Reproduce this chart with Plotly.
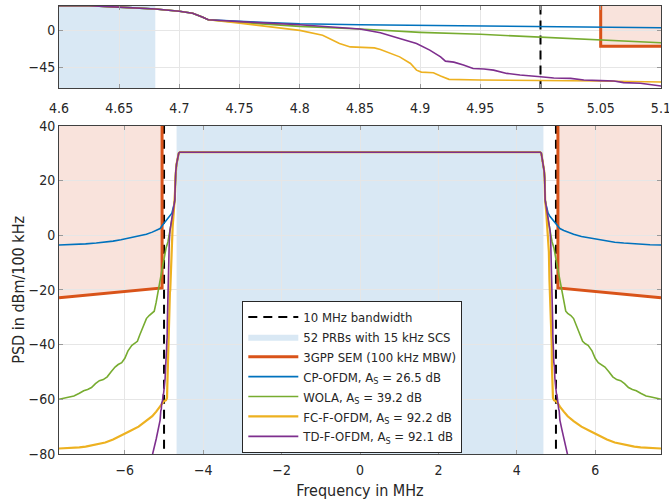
import plotly.graph_objects as go

# ---------------- data (right half of the symmetric spectrum, MHz / dBm per 100 kHz) ----------------
N_PRB = 52
SCS_MHZ = 0.015
CHANNEL_EDGE = 5.0          # 10 MHz bandwidth -> +-5 MHz
F_MAX = 7.68

cp_f = [0, 2, 4, 4.55, 4.6, 4.625, 4.65, 4.68, 4.7, 4.711, 4.719, 4.724, 4.75, 4.8, 4.85, 4.9,
        4.95, 5.0, 5.05, 5.1, 5.2, 5.3, 5.45, 5.65, 5.88, 6.1, 6.3, 6.5, 6.73, 7.0, 7.16, 7.4, 7.68]
cp_v = [30.3, 30.2, 30.3, 30.3, 30.3, 30.0, 28.2, 26.0, 23.3, 20.9, 16.1, 12.9, 10.9, 8.0, 6.8, 6.0,
        5.2, 4.3, 3.4, 2.4, 1.7, 1.1, 0.3, -0.5, -1.1, -1.7, -2.2, -2.6, -2.9, -3.2, -3.4, -3.5, -3.6]

wola_f = [0, 2, 4, 4.55, 4.6, 4.625, 4.65, 4.68, 4.7, 4.711, 4.719, 4.724, 4.75, 4.8, 4.85, 4.9,
          4.95, 5.0, 5.05, 5.1, 5.15, 5.2, 5.25, 5.3, 5.38, 5.45, 5.54, 5.62, 5.68, 5.75, 5.82, 5.92,
          6.0, 6.08, 6.17, 6.25, 6.35, 6.45, 6.55, 6.65, 6.75, 6.85, 6.95, 7.05, 7.16, 7.3, 7.4, 7.5,
          7.6, 7.68]
wola_v = [30.3, 30.2, 30.3, 30.3, 30.3, 30.0, 28.2, 26.0, 23.3, 20.9, 16.1, 12.9, 9.7, 4.8, 1.6, -2.4,
          -4.8, -8.8, -12.5, -16.1, -20.0, -24.5, -27.8, -28.6, -29.4, -30.5, -33.8, -36.5, -38.8, -39.7,
          -40.3, -42.3, -45.0, -46.6, -47.3, -48.2, -49.9, -51.8, -52.8, -53.2, -54.3, -55.7, -56.4,
          -56.9, -57.8, -58.8, -59.1, -59.3, -59.7, -60.0]

fc_f = [0, 2, 4, 4.55, 4.6, 4.625, 4.65, 4.68, 4.7, 4.711, 4.719, 4.724, 4.75, 4.78, 4.8, 4.819,
        4.833, 4.842, 4.85, 4.862, 4.867, 4.875, 4.883, 4.892, 4.897, 4.901, 4.911, 4.917, 4.924,
        4.95, 5.0, 5.05, 5.1, 5.2, 5.3, 5.45, 5.65, 5.88, 6.1, 6.3, 6.5, 6.73, 7.0, 7.16, 7.4, 7.68]
fc_v = [30.3, 30.2, 30.3, 30.3, 30.3, 30.0, 28.2, 26.0, 23.3, 20.9, 16.1, 12.9, 8.8, 3.2, 0.0, -6.0,
        -16.0, -20.1, -20.9, -21.3, -23.3, -27.3, -32.2, -40.2, -48.3, -50.7, -51.5, -55.5, -59.5,
        -60.3, -60.7, -61.5, -62.7, -64.5, -66.2, -68.0, -70.0, -71.7, -73.4, -74.7, -75.8, -76.6,
        -77.3, -77.6, -77.9, -78.0]

td_f = [0, 2, 4, 4.55, 4.6, 4.625, 4.65, 4.68, 4.7, 4.711, 4.719, 4.724, 4.75, 4.8, 4.85, 4.867,
        4.883, 4.897, 4.908, 4.917, 4.921, 4.928, 4.936, 4.944, 4.953, 4.961, 4.972, 4.983, 5.0,
        5.011, 5.025, 5.036, 5.05, 5.061, 5.069, 5.083, 5.1, 5.15, 5.2, 5.3, 5.4, 5.5]
td_v = [30.3, 30.2, 30.3, 30.3, 30.3, 30.0, 28.2, 26.0, 23.3, 20.9, 16.1, 12.9, 10.6, 6.8, 1.6, -2.8,
        -10.0, -16.0, -24.0, -32.2, -37.4, -38.6, -42.0, -46.3, -47.0, -48.3, -52.3, -54.3, -56.3,
        -57.9, -58.3, -60.3, -61.0, -61.5, -63.5, -64.3, -67.6, -71.0, -74.5, -80.5, -86.0, -91.0]

sem_f = [5.05, 7.68]
sem_v = [-19.3, -22.9]

names = ["CP-OFDM, A<sub>S</sub> = 26.5 dB", "WOLA, A<sub>S</sub> = 39.2 dB",
         "FC-F-OFDM, A<sub>S</sub> = 92.2 dB", "TD-F-OFDM, A<sub>S</sub> = 92.1 dB"]
colors = ["#0072bd", "#77ac30", "#edb120", "#7e2f8e"]

x_ticks_main = [-6, -4, -2, 0, 2, 4, 6]
y_ticks_main = [-80, -60, -40, -20, 0, 20, 40]
x_ticks_zoom = [4.6, 4.65, 4.7, 4.75, 4.8, 4.85, 4.9, 4.95, 5.0, 5.05, 5.1]
x_ticktext_zoom = ["4.6", "4.65", "4.7", "4.75", "4.8", "4.85", "4.9", "4.95", "5", "5.05", "5.1"]
y_ticks_zoom = [-45, 0]

Y_MAIN = [-80, 40]
Y_ZOOM = [-70, 29.6]
X_ZOOM = [4.6, 5.1]

# ---------------- helpers ----------------
def mirror(f, v):
    xs = [-a for a in reversed(f[1:])] + list(f)
    ys = list(reversed(v[1:])) + list(v)
    return xs, ys

FONT = "Liberation Sans Narrow, Arial Narrow, DejaVu Sans Condensed, sans-serif"
TXT = "#262626"
half_bw = N_PRB * 12 * SCS_MHZ / 2

fig = go.Figure()

# shaded regions as shapes below the grid
shapes = []
for xr, yr, yrng in (("x", "y", Y_MAIN), ("x2", "y2", Y_ZOOM)):
    shapes.append(dict(type="rect", xref=xr, yref=yr + " domain", x0=-half_bw, x1=half_bw, y0=0, y1=1,
                       fillcolor="#d9e8f4", line_width=0, layer="below"))
    top = yrng[1] + 20
    for s in (1, -1):
        path = "M {a},{b} L {c},{d} L {c},{t} L {a},{t} Z".format(
            a=s * sem_f[0], b=sem_v[0], c=s * sem_f[1], d=sem_v[1], t=top)
        shapes.append(dict(type="path", xref=xr, yref=yr, path=path,
                           fillcolor="#f9e3dc", line_width=0, layer="below"))

for xa, ya, yrng, main in (("x", "y", Y_MAIN, True), ("x2", "y2", Y_ZOOM, False)):
    # 10 MHz bandwidth dashed lines
    fig.add_trace(go.Scatter(
        x=[-CHANNEL_EDGE, -CHANNEL_EDGE, None, CHANNEL_EDGE, CHANNEL_EDGE],
        y=[yrng[0] - 20, yrng[1] + 20, None, yrng[0] - 20, yrng[1] + 20],
        mode="lines", line=dict(color="black", width=2, dash="9px,6px"),
        name="10 MHz bandwidth", showlegend=main, xaxis=xa, yaxis=ya, hoverinfo="skip"))
    if main:
        fig.add_trace(go.Scatter(x=[None], y=[None], mode="lines", fill="toself",
                                 fillcolor="#d9e8f4", line=dict(width=0, color="#d9e8f4"),
                                 name="52 PRBs with 15 kHz SCS", showlegend=True,
                                 xaxis=xa, yaxis=ya))
    # SEM line
    sx = [-sem_f[1], -sem_f[0], -sem_f[0], None, sem_f[0], sem_f[0], sem_f[1]]
    sy = [sem_v[1], sem_v[0], yrng[1] + 20, None, yrng[1] + 20, sem_v[0], sem_v[1]]
    fig.add_trace(go.Scatter(x=sx, y=sy, mode="lines", line=dict(color="#d95319", width=3),
                             name="3GPP SEM (100 kHz MBW)", showlegend=main,
                             xaxis=xa, yaxis=ya, hoverinfo="skip"))
    for (f, v), nm, c in zip(((cp_f, cp_v), (wola_f, wola_v), (fc_f, fc_v), (td_f, td_v)), names, colors):
        xs, ys = mirror(f, v)
        w = 1.6
        if main and c == "#edb120":
            w = 2.2
        fig.add_trace(go.Scatter(x=xs, y=ys, mode="lines", line=dict(color=c, width=w),
                                 name=nm, showlegend=main, xaxis=xa, yaxis=ya, hoverinfo="skip"))

axis_common = dict(showline=True, linecolor="#404040", linewidth=1, mirror="ticks",
                   ticks="inside", ticklen=4, tickcolor="#9a9a9a", automargin=False,
                   showgrid=True, gridcolor="#e6e6e6", gridwidth=1, zeroline=False,
                   ticklabeloverflow="allow",
                   tickfont=dict(family=FONT, size=14, color=TXT))

fig.update_layout(
    template="none",
    width=669, height=504,
    margin=dict(l=59, r=8, t=6, b=50),
    paper_bgcolor="white", plot_bgcolor="white",
    font=dict(family=FONT, size=14, color=TXT),
    shapes=shapes,
    showlegend=True,
    legend=dict(x=0.3045, y=0.3415, xanchor="left", yanchor="top",
                bgcolor="white", bordercolor="#262626", borderwidth=1,
                font=dict(family=FONT, size=13, color=TXT),
                itemwidth=50, tracegroupgap=0),
    xaxis=dict(domain=[0, 1], range=[-F_MAX, F_MAX], anchor="y", ticklabelstandoff=3,
               tickvals=x_ticks_main, title=dict(text="Frequency in MHz", font=dict(size=16), standoff=8),
               **axis_common),
    yaxis=dict(domain=[0, 0.7328], range=Y_MAIN, anchor="x",
               tickvals=y_ticks_main, title=dict(text="PSD in dBm/100 kHz", font=dict(size=16), standoff=0),
               **axis_common),
    xaxis2=dict(domain=[0, 1], range=[X_ZOOM[0], X_ZOOM[1] + 1e-4], anchor="y2", ticklabelstandoff=7,
                tickvals=x_ticks_zoom, ticktext=x_ticktext_zoom, **axis_common),
    yaxis2=dict(domain=[0.817, 1], range=Y_ZOOM, anchor="x2",
                tickvals=y_ticks_zoom, **axis_common),
)

fig.write_html("out.html", config={"displayModeBar": False},
               post_script="document.body.style.margin='0';")
